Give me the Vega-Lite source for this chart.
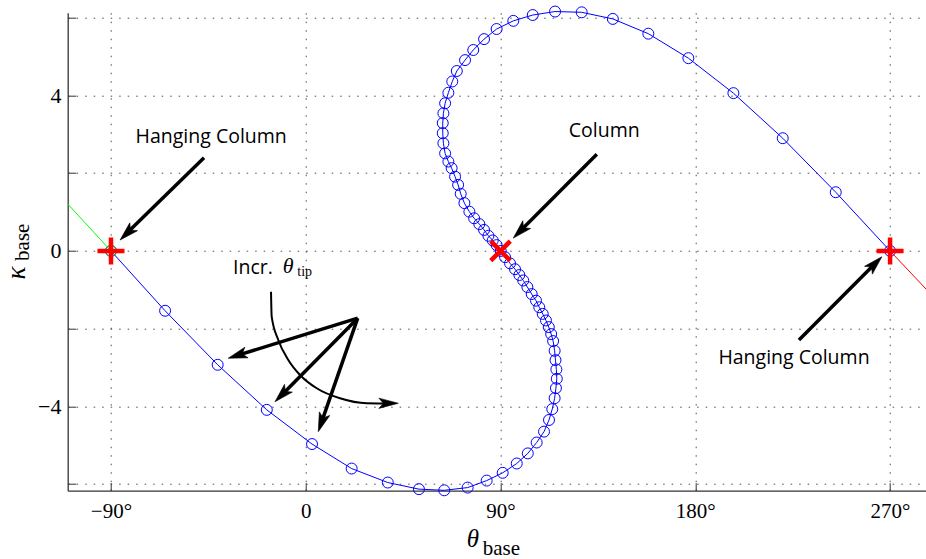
{
  "$schema": "https://vega.github.io/schema/vega-lite/v6.json",
  "width": 858.3,
  "height": 478,
  "autosize": {"type": "none"},
  "padding": {"left": 67.7, "top": 12.7, "right": 0, "bottom": 68.3},
  "background": "white",
  "config": {"view": {"stroke": null}},
  "datasets": {
    "curve": [
      {"i": 1, "theta": -90, "kappa": 0},
      {"i": 2, "theta": -65.0, "kappa": -1.54},
      {"i": 3, "theta": -40.7, "kappa": -2.93},
      {"i": 4, "theta": -18.0, "kappa": -4.09},
      {"i": 5, "theta": 2.9, "kappa": -4.97},
      {"i": 6, "theta": 21.2, "kappa": -5.60},
      {"i": 7, "theta": 37.9, "kappa": -5.96},
      {"i": 8, "theta": 52.3, "kappa": -6.13},
      {"i": 9, "theta": 64.0, "kappa": -6.16},
      {"i": 10, "theta": 74.8, "kappa": -6.09},
      {"i": 11, "theta": 83.6, "kappa": -5.91},
      {"i": 12, "theta": 91.0, "kappa": -5.71},
      {"i": 13, "theta": 97.5, "kappa": -5.47},
      {"i": 14, "theta": 102.6, "kappa": -5.21},
      {"i": 15, "theta": 106.7, "kappa": -4.93},
      {"i": 16, "theta": 110.1, "kappa": -4.65},
      {"i": 17, "theta": 112.4, "kappa": -4.35},
      {"i": 18, "theta": 113.9, "kappa": -4.07},
      {"i": 19, "theta": 115.0, "kappa": -3.79},
      {"i": 20, "theta": 115.6, "kappa": -3.53},
      {"i": 21, "theta": 116.0, "kappa": -3.29},
      {"i": 22, "theta": 115.8, "kappa": -3.05},
      {"i": 23, "theta": 115.4, "kappa": -2.81},
      {"i": 24, "theta": 115.0, "kappa": -2.57},
      {"i": 25, "theta": 114.3, "kappa": -2.32},
      {"i": 26, "theta": 113.4, "kappa": -2.14},
      {"i": 27, "theta": 112.3, "kappa": -1.96},
      {"i": 28, "theta": 111.0, "kappa": -1.79},
      {"i": 29, "theta": 109.5, "kappa": -1.62},
      {"i": 30, "theta": 107.9, "kappa": -1.45},
      {"i": 31, "theta": 106.4, "kappa": -1.28},
      {"i": 32, "theta": 104.4, "kappa": -1.11},
      {"i": 33, "theta": 102.4, "kappa": -0.93},
      {"i": 34, "theta": 100.5, "kappa": -0.76},
      {"i": 35, "theta": 98.7, "kappa": -0.62},
      {"i": 36, "theta": 96.7, "kappa": -0.47},
      {"i": 37, "theta": 94.4, "kappa": -0.32},
      {"i": 38, "theta": 92.1, "kappa": -0.16},
      {"i": 39, "theta": 90.1, "kappa": 0.0},
      {"i": 40, "theta": 88.2, "kappa": 0.15},
      {"i": 41, "theta": 86.4, "kappa": 0.27},
      {"i": 42, "theta": 84.4, "kappa": 0.39},
      {"i": 43, "theta": 82.4, "kappa": 0.54},
      {"i": 44, "theta": 80.2, "kappa": 0.69},
      {"i": 45, "theta": 77.8, "kappa": 0.84},
      {"i": 46, "theta": 75.6, "kappa": 1.01},
      {"i": 47, "theta": 73.3, "kappa": 1.23},
      {"i": 48, "theta": 71.6, "kappa": 1.47},
      {"i": 49, "theta": 70.4, "kappa": 1.70},
      {"i": 50, "theta": 69.0, "kappa": 1.91},
      {"i": 51, "theta": 67.4, "kappa": 2.13},
      {"i": 52, "theta": 65.9, "kappa": 2.30},
      {"i": 53, "theta": 64.4, "kappa": 2.51},
      {"i": 54, "theta": 63.6, "kappa": 2.77},
      {"i": 55, "theta": 63.3, "kappa": 3.03},
      {"i": 56, "theta": 63.3, "kappa": 3.29},
      {"i": 57, "theta": 63.6, "kappa": 3.54},
      {"i": 58, "theta": 64.4, "kappa": 3.80},
      {"i": 59, "theta": 65.9, "kappa": 4.07},
      {"i": 60, "theta": 67.7, "kappa": 4.36},
      {"i": 61, "theta": 69.8, "kappa": 4.63},
      {"i": 62, "theta": 73.6, "kappa": 4.91},
      {"i": 63, "theta": 77.4, "kappa": 5.17},
      {"i": 64, "theta": 82.4, "kappa": 5.45},
      {"i": 65, "theta": 88.2, "kappa": 5.71},
      {"i": 66, "theta": 95.9, "kappa": 5.92},
      {"i": 67, "theta": 104.9, "kappa": 6.07},
      {"i": 68, "theta": 115.2, "kappa": 6.16},
      {"i": 69, "theta": 127.5, "kappa": 6.14},
      {"i": 70, "theta": 141.9, "kappa": 5.97},
      {"i": 71, "theta": 158.3, "kappa": 5.59},
      {"i": 72, "theta": 176.8, "kappa": 4.96},
      {"i": 73, "theta": 197.6, "kappa": 4.06},
      {"i": 74, "theta": 220.4, "kappa": 2.90},
      {"i": 75, "theta": 244.9, "kappa": 1.51},
      {"i": 76, "theta": 270.0, "kappa": 0.0}
    ],
    "green": [
      {"i": 1, "theta": -110, "kappa": 1.21},
      {"i": 2, "theta": -90, "kappa": 0}
    ],
    "red": [
      {"i": 1, "theta": 270, "kappa": 0},
      {"i": 2, "theta": 286.6, "kappa": -0.98}
    ],
    "plus": [
      {"theta": -90, "kappa": 0},
      {"theta": 270, "kappa": 0}
    ],
    "cross": [
      {"theta": 90, "kappa": 0}
    ],
    "arrows": [
      {"x": -47.0, "y": 2.40, "x2": -81.9, "y2": 0.50, "tx": -85.8, "ty": 0.28, "dir": 225.6},
      {"x": 134.5, "y": 2.49, "x2": 99.8, "y2": 0.55, "tx": 95.9, "ty": 0.33, "dir": 224.8},
      {"x": 227.9, "y": -2.29, "x2": 262.3, "y2": -0.37, "tx": 266.2, "ty": -0.15, "dir": 44.8},
      {"x": 24.0, "y": -1.73, "x2": -30.5, "y2": -2.67, "tx": -35.8, "ty": -2.76, "dir": 252.8},
      {"x": 24.0, "y": -1.73, "x2": -10.3, "y2": -3.66, "tx": -14.2, "ty": -3.88, "dir": 224.8},
      {"x": 24.0, "y": -1.73, "x2": 7.6, "y2": -4.36, "tx": 5.8, "ty": -4.65, "dir": 199.2}
    ],
    "arc": [
      {"i": 1, "x": -16.06, "y": -1.048},
      {"i": 2, "x": -15.74, "y": -1.692},
      {"i": 3, "x": -12.69, "y": -2.291},
      {"i": 4, "x": -8.06, "y": -2.806},
      {"i": 5, "x": -2.66, "y": -3.192},
      {"i": 6, "x": 5.06, "y": -3.534},
      {"i": 7, "x": 15.83, "y": -3.792},
      {"i": 8, "x": 28.17, "y": -3.920},
      {"i": 9, "x": 36.16, "y": -3.925}
    ],
    "archead": [
      {"tx": 42.77, "ty": -3.92, "dir": 90}
    ],
    "labels": [
      {"x": -43.7, "y": 2.93, "text": "Hanging Column"},
      {"x": 137.9, "y": 3.09, "text": "Column"},
      {"x": 225.6, "y": -2.75, "text": "Hanging Column"}
    ]
  },
  "layer": [
    {
      "data": {"name": "curve"},
      "mark": {"type": "line", "color": "#0000ff", "strokeWidth": 1},
      "encoding": {
        "x": {
          "field": "theta", "type": "quantitative",
          "scale": {"domain": [-110, 286.6], "nice": false, "zero": false},
          "axis": {
            "values": [-90, 0, 90, 180, 270],
            "labelExpr": "datum.value == 0 ? '0' : format(datum.value, 'd') + '°'",
            "title": null,
            "grid": true, "gridDash": [1.5, 7], "gridColor": "#000", "gridOpacity": 0.7, "gridWidth": 1,
            "tickSize": -8, "tickColor": "#333", "tickWidth": 1,
            "domainColor": "#333", "domainWidth": 1.3,
            "labelFont": "Liberation Serif", "labelFontSize": 21, "labelColor": "#000",
            "labelPadding": 18
          }
        },
        "y": {
          "field": "kappa", "type": "quantitative",
          "scale": {"domain": [-6.17, 6.13], "nice": false, "zero": false},
          "axis": {
            "values": [-6, -4, -2, 0, 2, 4, 6],
            "labelExpr": "datum.value % 4 == 0 ? format(datum.value, 'd') : ''",
            "title": null,
            "grid": true, "gridDash": [1.5, 7], "gridColor": "#000", "gridOpacity": 0.7, "gridWidth": 1,
            "tickSize": -8, "tickColor": "#333", "tickWidth": 1,
            "domainColor": "#333", "domainWidth": 1.3,
            "labelFont": "Liberation Serif", "labelFontSize": 22, "labelColor": "#000",
            "labelPadding": 14.7
          }
        },
        "order": {"field": "i", "type": "quantitative"}
      }
    },
    {
      "data": {"name": "curve"},
      "mark": {"type": "point", "shape": "circle", "filled": false, "size": 120, "stroke": "#0000ff", "strokeWidth": 1, "opacity": 1},
      "encoding": {
        "x": {"field": "theta", "type": "quantitative"},
        "y": {"field": "kappa", "type": "quantitative"}
      }
    },
    {
      "data": {"name": "green"},
      "mark": {"type": "line", "color": "#00ff00", "strokeWidth": 1, "clip": true},
      "encoding": {
        "x": {"field": "theta", "type": "quantitative"},
        "y": {"field": "kappa", "type": "quantitative"},
        "order": {"field": "i", "type": "quantitative"}
      }
    },
    {
      "data": {"name": "green"},
      "transform": [{"filter": "datum.i == 2"}],
      "mark": {"type": "point", "shape": "circle", "filled": false, "size": 120, "stroke": "#00cc00", "strokeWidth": 1, "opacity": 1},
      "encoding": {
        "x": {"field": "theta", "type": "quantitative"},
        "y": {"field": "kappa", "type": "quantitative"}
      }
    },
    {
      "data": {"name": "red"},
      "mark": {"type": "line", "color": "#ff0000", "strokeWidth": 1, "clip": true},
      "encoding": {
        "x": {"field": "theta", "type": "quantitative"},
        "y": {"field": "kappa", "type": "quantitative"},
        "order": {"field": "i", "type": "quantitative"}
      }
    },
    {
      "data": {"name": "plus"},
      "mark": {"type": "point", "shape": "M-1,0L1,0M0,-1L0,1", "filled": false, "size": 729, "stroke": "#ff0000", "strokeWidth": 4.5, "opacity": 1},
      "encoding": {
        "x": {"field": "theta", "type": "quantitative"},
        "y": {"field": "kappa", "type": "quantitative"}
      }
    },
    {
      "data": {"name": "cross"},
      "mark": {"type": "point", "shape": "M-1,-1L1,1M-1,1L1,-1", "filled": false, "size": 380, "stroke": "#ff0000", "strokeWidth": 4.5, "opacity": 1},
      "encoding": {
        "x": {"field": "theta", "type": "quantitative"},
        "y": {"field": "kappa", "type": "quantitative"}
      }
    },
    {
      "data": {"name": "arrows"},
      "mark": {"type": "rule", "color": "#000", "strokeWidth": 3.5, "strokeCap": "butt"},
      "encoding": {
        "x": {"field": "x", "type": "quantitative"},
        "y": {"field": "y", "type": "quantitative"},
        "x2": {"field": "x2"},
        "y2": {"field": "y2"}
      }
    },
    {
      "data": {"name": "arrows"},
      "mark": {"type": "point", "shape": "M0,0L0.55,1.9L0,1.45L-0.55,1.9Z", "filled": true, "size": 400, "fill": "#000", "stroke": "#000", "strokeWidth": 0.6, "opacity": 1},
      "encoding": {
        "x": {"field": "tx", "type": "quantitative"},
        "y": {"field": "ty", "type": "quantitative"},
        "angle": {"field": "dir", "type": "quantitative", "scale": null}
      }
    },
    {
      "data": {"name": "arc"},
      "mark": {"type": "line", "color": "#000", "strokeWidth": 2, "interpolate": "monotone"},
      "encoding": {
        "x": {"field": "x", "type": "quantitative"},
        "y": {"field": "y", "type": "quantitative"},
        "order": {"field": "i", "type": "quantitative"}
      }
    },
    {
      "data": {"name": "archead"},
      "mark": {"type": "point", "shape": "M0,0L0.5,1.9L0,1.45L-0.5,1.9Z", "filled": true, "size": 420, "fill": "#000", "stroke": "#000", "strokeWidth": 0.6, "opacity": 1},
      "encoding": {
        "x": {"field": "tx", "type": "quantitative"},
        "y": {"field": "ty", "type": "quantitative"},
        "angle": {"field": "dir", "type": "quantitative", "scale": null}
      }
    },
    {
      "data": {"name": "labels"},
      "mark": {"type": "text", "font": "Open Sans", "fontSize": 19.5, "color": "#000", "align": "center", "baseline": "middle"},
      "encoding": {
        "x": {"field": "x", "type": "quantitative"},
        "y": {"field": "y", "type": "quantitative"},
        "text": {"field": "text"}
      }
    },
    {
      "data": {"values": [{"x": -33.6, "y": -0.60, "text": "Incr."}]},
      "mark": {"type": "text", "font": "Open Sans", "fontSize": 19.5, "color": "#000", "align": "left", "baseline": "alphabetic"},
      "encoding": {
        "x": {"field": "x", "type": "quantitative"},
        "y": {"field": "y", "type": "quantitative"},
        "text": {"field": "text"}
      }
    },
    {
      "data": {"values": [{"x": -10.65, "y": -0.574, "text": "θ"}]},
      "mark": {"type": "text", "font": "Liberation Serif", "fontSize": 22, "fontStyle": "italic", "color": "#000", "align": "left", "baseline": "alphabetic"},
      "encoding": {
        "x": {"field": "x", "type": "quantitative"},
        "y": {"field": "y", "type": "quantitative"},
        "text": {"field": "text"}
      }
    },
    {
      "data": {"values": [{"x": -3.9, "y": -0.644, "text": "tip"}]},
      "mark": {"type": "text", "font": "Liberation Serif", "fontSize": 14, "color": "#000", "align": "left", "baseline": "alphabetic"},
      "encoding": {
        "x": {"field": "x", "type": "quantitative"},
        "y": {"field": "y", "type": "quantitative"},
        "text": {"field": "text"}
      }
    },
    {
      "data": {"values": [{"x": 74.4, "y": -7.62, "text": "θ"}]},
      "mark": {"type": "text", "font": "Liberation Serif", "fontSize": 25, "fontStyle": "italic", "color": "#000", "align": "left", "baseline": "alphabetic"},
      "encoding": {
        "x": {"field": "x", "type": "quantitative"},
        "y": {"field": "y", "type": "quantitative"},
        "text": {"field": "text"}
      }
    },
    {
      "data": {"values": [{"x": 81.8, "y": -7.82, "text": "base"}]},
      "mark": {"type": "text", "font": "Liberation Serif", "fontSize": 21, "color": "#000", "align": "left", "baseline": "alphabetic"},
      "encoding": {
        "x": {"field": "x", "type": "quantitative"},
        "y": {"field": "y", "type": "quantitative"},
        "text": {"field": "text"}
      }
    },
    {
      "data": {"values": [{"x": -129.5, "y": -0.566, "text": "κ"}]},
      "mark": {"type": "text", "font": "Liberation Serif", "fontSize": 27, "fontStyle": "italic", "color": "#000", "align": "center", "baseline": "alphabetic", "angle": 270},
      "encoding": {
        "x": {"field": "x", "type": "quantitative"},
        "y": {"field": "y", "type": "quantitative"},
        "text": {"field": "text"}
      }
    },
    {
      "data": {"values": [{"x": -128.0, "y": -0.257, "text": "base"}]},
      "mark": {"type": "text", "font": "Liberation Serif", "fontSize": 21, "color": "#000", "align": "left", "baseline": "alphabetic", "angle": 270},
      "encoding": {
        "x": {"field": "x", "type": "quantitative"},
        "y": {"field": "y", "type": "quantitative"},
        "text": {"field": "text"}
      }
    }
  ]
}
